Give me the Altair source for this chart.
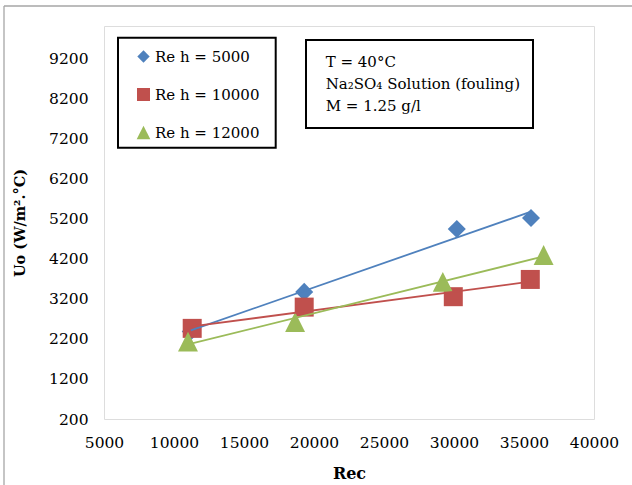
import altair as alt
import pandas as pd

# ---- data ----
series = ["Re h = 5000", "Re h = 10000", "Re h = 12000"]
rec_5000 = [11200, 19300, 30200, 35500]
uo_5000 = [2380, 3370, 4940, 5210]
rec_10000 = [11300, 19300, 29950, 35450]
uo_10000 = [2460, 2990, 3250, 3680]
rec_12000 = [11000, 18650, 29200, 36400]
uo_12000 = [2130, 2620, 3620, 4290]

x_ticks = [5000, 10000, 15000, 20000, 25000, 30000, 35000, 40000]
y_ticks = [200, 1200, 2200, 3200, 4200, 5200, 6200, 7200, 8200, 9200]
annotation_lines = ["T = 40°C", "Na₂SO₄ Solution (fouling)", "M = 1.25 g/l"]

colors = ["#4F81BD", "#C0504D", "#9BBB59"]
shapes = [
    "M0,-0.95L0.95,0L0,0.95L-0.95,0Z",
    "M-1,-1L1,-1L1,1L-1,1Z",
    "M0,-1.05L1.05,1.05L-1.05,1.05Z",
]

rows = []
for name, xs, ys in zip(series, [rec_5000, rec_10000, rec_12000], [uo_5000, uo_10000, uo_12000]):
    for a, b in zip(xs, ys):
        rows.append({"series": name, "rec": a, "uo": b})
df = pd.DataFrame(rows)

FONT = "DejaVu Serif"
W, H = 490, 393

xenc = alt.X("rec:Q", scale=alt.Scale(domain=[5000, 40000], nice=False),
             axis=alt.Axis(values=x_ticks, format="d", title="Rec", domain=False, ticks=False,
                           grid=False, labelFont=FONT, labelFontSize=15.5, labelColor="black",
                           labelOverlap=False, labelBound=False, labelFlush=False,
                           labelPadding=16, titleFont=FONT, titleFontSize=16, titleFontWeight="bold",
                           titleColor="black", titlePadding=15))
yenc = alt.Y("uo:Q", scale=alt.Scale(domain=[200, 10000], nice=False),
             axis=alt.Axis(values=y_ticks, format="d", title="Uo (W/m².°C)", domain=False, ticks=False,
                           grid=False, labelFont=FONT, labelFontSize=15.5, labelColor="black",
                           labelOverlap=False, labelBound=False, labelFlush=False,
                           labelPadding=16, titleFont=FONT, titleFontSize=14.5, titleFontWeight="bold",
                           titleColor="black", titlePadding=21))

color_scale = alt.Scale(domain=series, range=colors)
shape_scale = alt.Scale(domain=series, range=shapes)

base = alt.Chart(df)

points = base.mark_point(filled=True, opacity=1, size=361, strokeWidth=0).encode(
    x=xenc, y=yenc,
    color=alt.Color("series:N", scale=color_scale, sort=series,
                    legend=alt.Legend(title=None, orient="none", legendX=32, legendY=23,
                                      labelFont=FONT, labelFontSize=15, labelColor="black",
                                      labelOffset=4, rowPadding=22, symbolSize=169,
                                      symbolStrokeWidth=0, symbolOpacity=1, padding=0)),
    shape=alt.Shape("series:N", scale=shape_scale, sort=series, legend=alt.Legend(title=None)),
)

lines = base.transform_regression("rec", "uo", groupby=["series"], method="linear").mark_line(
    strokeWidth=1.8).encode(
    x=alt.X("rec:Q"), y=alt.Y("uo:Q"),
    color=alt.Color("series:N", scale=color_scale, legend=None),
)

frame_src = alt.Chart(pd.DataFrame({"k": [0]}))

legend_box = frame_src.mark_rect(fill="white", stroke="black", strokeWidth=2).encode(
    x=alt.value(14), x2=alt.value(171.7), y=alt.value(11.7), y2=alt.value(121.7))
note_box = frame_src.mark_rect(fill="white", stroke="black", strokeWidth=2).encode(
    x=alt.value(202), x2=alt.value(429), y=alt.value(14), y2=alt.value(102))
note_text = frame_src.mark_text(align="left", baseline="middle", font=FONT, fontSize=15,
                                color="black", lineHeight=22.2, text=annotation_lines).encode(
    x=alt.value(221.7), y=alt.value(35.7))

outer_left = frame_src.mark_rule(color="#a6a6a6", strokeWidth=1.3).encode(
    x=alt.value(-100), y=alt.value(-20), y2=alt.value(470))
outer_top = frame_src.mark_rule(color="#a6a6a6", strokeWidth=1.3).encode(
    x=alt.value(-100), x2=alt.value(540), y=alt.value(-20))

chart = alt.layer(outer_left, outer_top, legend_box, note_box, note_text, points, lines).properties(
    width=W, height=H,
    autosize=alt.AutoSizeParams(type="none"),
    padding={"left": 104, "top": 26, "right": 38, "bottom": 66},
).configure_view(stroke="#878787", strokeWidth=1.5).configure(background="white")

chart.save("out.html", embed_options={"renderer": "svg", "actions": False})
